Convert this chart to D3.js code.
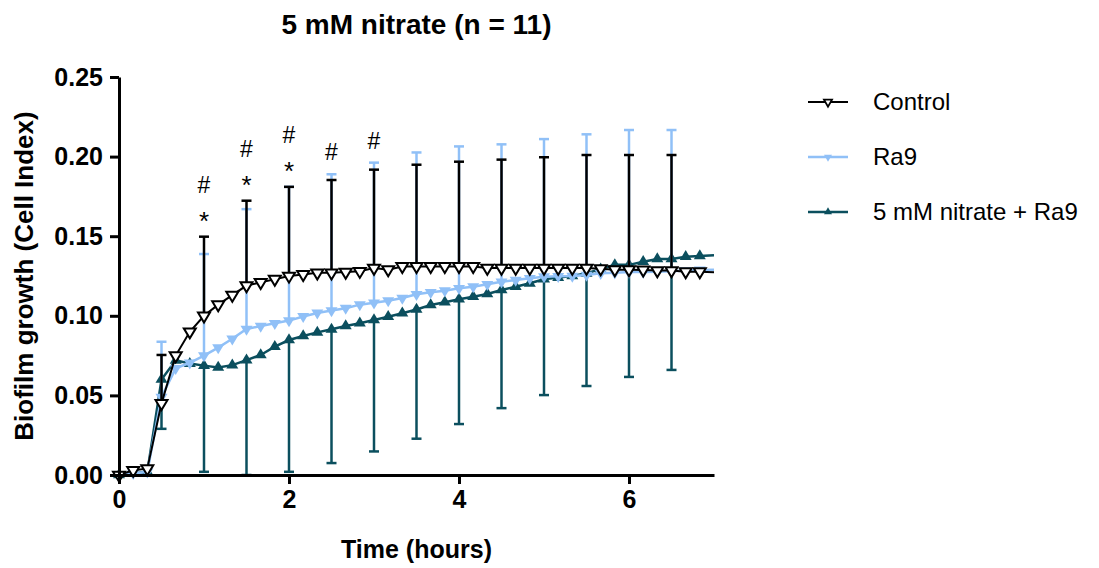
<!DOCTYPE html>
<html lang="en">
<head>
  <meta charset="utf-8" />
  <title>5 mM nitrate (n = 11)</title>
  <style>
    body { margin: 0; background: #fff; font-family: "Liberation Sans", Arial, sans-serif; }
    .axis path, .axis line { stroke: #000; stroke-width: 3px; }
    .axis text { font: bold 25px "Liberation Sans", Arial, sans-serif; fill: #000; }
  </style>
</head>
<body>
<script src="https://cdn.jsdelivr.net/npm/d3@7"></script>
<script>
  // time points every 10 minutes (hours); the 7.0 point has no marker (clipped at the axis end)
  const times = [0, 0.167, 0.333, 0.5, 0.667, 0.833, 1.0, 1.167, 1.333, 1.5, 1.667, 1.833,
    2.0, 2.167, 2.333, 2.5, 2.667, 2.833, 3.0, 3.167, 3.333, 3.5, 3.667, 3.833,
    4.0, 4.167, 4.333, 4.5, 4.667, 4.833, 5.0, 5.167, 5.333, 5.5, 5.667, 5.833,
    6.0, 6.167, 6.333, 6.5, 6.667, 6.833, 7.0];

  const controlMean = [0.000, 0.003, 0.004, 0.045, 0.075, 0.090, 0.100, 0.107, 0.113, 0.119, 0.121, 0.123,
    0.125, 0.126, 0.127, 0.127, 0.1275, 0.128, 0.130, 0.129, 0.131, 0.131, 0.131, 0.131,
    0.131, 0.131, 0.130, 0.130, 0.130, 0.130, 0.130, 0.130, 0.130, 0.130, 0.1296, 0.129,
    0.129, 0.1288, 0.1284, 0.1284, 0.1277, 0.1277, 0.1274];

  const ra9Mean = [0.000, 0.001, 0.002, 0.049, 0.067, 0.0705, 0.075, 0.080, 0.0856, 0.0917, 0.0936, 0.0953,
    0.097, 0.0996, 0.1018, 0.1033, 0.1048, 0.107, 0.1082, 0.1095, 0.1112, 0.1135, 0.1148, 0.1158,
    0.1173, 0.1183, 0.1198, 0.1214, 0.1225, 0.1236, 0.1246, 0.1248, 0.125, 0.1256, 0.1267, 0.127,
    0.1275, 0.1275, 0.1277, 0.128, 0.1284, 0.1288, 0.129];

  const nitrateMean = [0.000, 0.001, 0.002, 0.060, 0.072, 0.070, 0.0687, 0.0676, 0.069, 0.0722, 0.0754, 0.0806,
    0.0848, 0.0873, 0.0896, 0.0915, 0.0936, 0.0953, 0.0974, 0.0994, 0.1016, 0.104, 0.1068, 0.1085,
    0.1104, 0.112, 0.1137, 0.1162, 0.1183, 0.1204, 0.123, 0.124, 0.125, 0.1267, 0.1293, 0.132,
    0.132, 0.134, 0.1357, 0.1357, 0.1371, 0.1376, 0.138];

  // error bars shown every 30 min (end values of the bars)
  const errTimes = [0.5, 1.0, 1.5, 2.0, 2.5, 3.0, 3.5, 4.0, 4.5, 5.0, 5.5, 6.0, 6.5];
  const controlUpper = [0.0754, 0.1497, 0.1723, 0.181, 0.1853, 0.1918, 0.1949, 0.1968, 0.1981, 0.1996, 0.201, 0.201, 0.201];
  const ra9Upper = [0.0837, 0.1388, 0.167, 0.181, 0.1889, 0.1962, 0.2026, 0.2064, 0.2077, 0.211, 0.214, 0.2167, 0.2167];
  const nitrateLower = [0.029, 0.002, 0.000, 0.002, 0.0075, 0.0148, 0.0228, 0.032, 0.042, 0.0502, 0.0559, 0.0616, 0.066];

  // significance marks
  const sigTimes = [1.0, 1.5, 2.0, 2.5, 3.0];
  const sigLabels = [["*", "#"], ["*", "#"], ["*", "#"], ["#"], ["#"]];

  const xTicks = [0, 2, 4, 6];
  const yTicks = [0, 0.05, 0.10, 0.15, 0.20, 0.25];

  const seriesNames = ["Control", "Ra9", "5 mM nitrate + Ra9"];
  const colors = ["#000000", "#90c0f7", "#0b4f5e"];

  const width = 1099, height = 568;
  const margin = {top: 77, left: 119, right: 385, bottom: 93};

  const svg = d3.select("body").append("svg")
    .attr("width", width)
    .attr("height", height);

  const x = d3.scaleLinear().domain([0, 7]).range([margin.left, width - margin.right]);
  const y = d3.scaleLinear().domain([0, 0.25]).range([height - margin.bottom, margin.top]);

  // triangle paths, centred on centroid
  function tri(w, h, down) {
    const s = down ? 1 : -1;
    return `M${-w / 2},${-s * h / 3}L${w / 2},${-s * h / 3}L0,${s * 2 * h / 3}Z`;
  }

  const series = [
    {name: seriesNames[0], mean: controlMean, color: colors[0], down: true, open: true, lw: 2},
    {name: seriesNames[1], mean: ra9Mean, color: colors[1], down: true, open: false, lw: 2.5},
    {name: seriesNames[2], mean: nitrateMean, color: colors[2], down: false, open: false, lw: 2.5}
  ];
  const errEnds = [controlUpper, ra9Upper, nitrateLower];

  const line = d3.line().x((d, i) => x(times[i])).y(d => y(d));

  // draw back to front: nitrate, Ra9, Control
  [2, 1, 0].forEach(k => {
    const s = series[k];
    const g = svg.append("g");
    const meanAt = t => s.mean[times.findIndex(v => Math.abs(v - t) < 0.01)];

    const eb = g.selectAll("g.err").data(errTimes).join("g").attr("class", "err");
    eb.append("line")
      .attr("x1", d => x(d)).attr("x2", d => x(d))
      .attr("y1", d => y(meanAt(d)))
      .attr("y2", (d, i) => y(errEnds[k][i]))
      .attr("stroke", s.color).attr("stroke-width", 2.5);
    eb.append("line")
      .attr("x1", d => x(d) - 5).attr("x2", d => x(d) + 5)
      .attr("y1", (d, i) => y(errEnds[k][i]))
      .attr("y2", (d, i) => y(errEnds[k][i]))
      .attr("stroke", s.color).attr("stroke-width", 2.5);

    g.append("path")
      .datum(s.mean)
      .attr("d", line)
      .attr("fill", "none")
      .attr("stroke", s.color)
      .attr("stroke-width", s.lw);

    const pts = s.mean.map((v, i) => ({t: times[i], v})).filter(p => p.t < 6.95);
    g.selectAll("path.mk").data(pts).join("path")
      .attr("class", "mk")
      .attr("transform", d => `translate(${x(d.t)},${y(d.v)})`)
      .attr("d", tri(12, 10, s.down))
      .attr("fill", s.open ? "#fff" : s.color)
      .attr("stroke", s.open ? s.color : "none")
      .attr("stroke-width", 2);
  });

  // significance marks above the highest bar
  sigTimes.forEach((t, i) => {
    const j = errTimes.indexOf(t);
    const top = y(Math.max(controlUpper[j], ra9Upper[j]));
    sigLabels[i].forEach((lab, n) => {
      const cy = top - 22 - n * 30;
      svg.append("text")
        .attr("x", x(t))
        .attr("y", lab === "*" ? cy + 15 : cy + 8)
        .attr("text-anchor", "middle")
        .style("font", lab === "*" ? "26px 'Liberation Sans', Arial, sans-serif" : "23px 'Liberation Sans', Arial, sans-serif")
        .text(lab);
    });
  });

  // axes
  svg.append("g")
    .attr("class", "axis")
    .attr("transform", `translate(0,${height - margin.bottom})`)
    .call(d3.axisBottom(x).tickValues(xTicks).tickSize(9).tickSizeOuter(0).tickPadding(6).tickFormat(d3.format("d")));

  svg.append("g")
    .attr("class", "axis")
    .attr("transform", `translate(${margin.left},0)`)
    .call(d3.axisLeft(y).tickValues(yTicks).tickSize(9).tickSizeOuter(0).tickPadding(7).tickFormat(d3.format(".2f")));

  // title and axis labels
  svg.append("text")
    .attr("x", x(3.5)).attr("y", 34)
    .attr("text-anchor", "middle")
    .style("font", "bold 28px 'Liberation Sans', Arial, sans-serif")
    .text("5 mM nitrate (n = 11)");

  svg.append("text")
    .attr("x", x(3.5)).attr("y", 558)
    .attr("text-anchor", "middle")
    .style("font", "bold 25px 'Liberation Sans', Arial, sans-serif")
    .text("Time (hours)");

  svg.append("text")
    .attr("transform", `translate(33,${y(0.125)}) rotate(-90)`)
    .attr("text-anchor", "middle")
    .style("font", "bold 26px 'Liberation Sans', Arial, sans-serif")
    .text("Biofilm growth (Cell Index)");

  // legend
  const legend = svg.append("g").attr("transform", "translate(808,102)");
  series.forEach((s, i) => {
    const lg = legend.append("g").attr("transform", `translate(0,${i * 55})`);
    lg.append("line").attr("x1", 0).attr("x2", 40)
      .attr("stroke", s.color).attr("stroke-width", s.lw);
    lg.append("path")
      .attr("transform", "translate(20,0)")
      .attr("d", tri(8, 7, s.down))
      .attr("fill", s.open ? "#fff" : s.color)
      .attr("stroke", s.open ? s.color : "none")
      .attr("stroke-width", 1.8);
    lg.append("text")
      .attr("x", 65).attr("y", 0).attr("dy", "0.35em")
      .style("font", "24px 'Liberation Sans', Arial, sans-serif")
      .text(s.name);
  });
</script>
</body>
</html>
